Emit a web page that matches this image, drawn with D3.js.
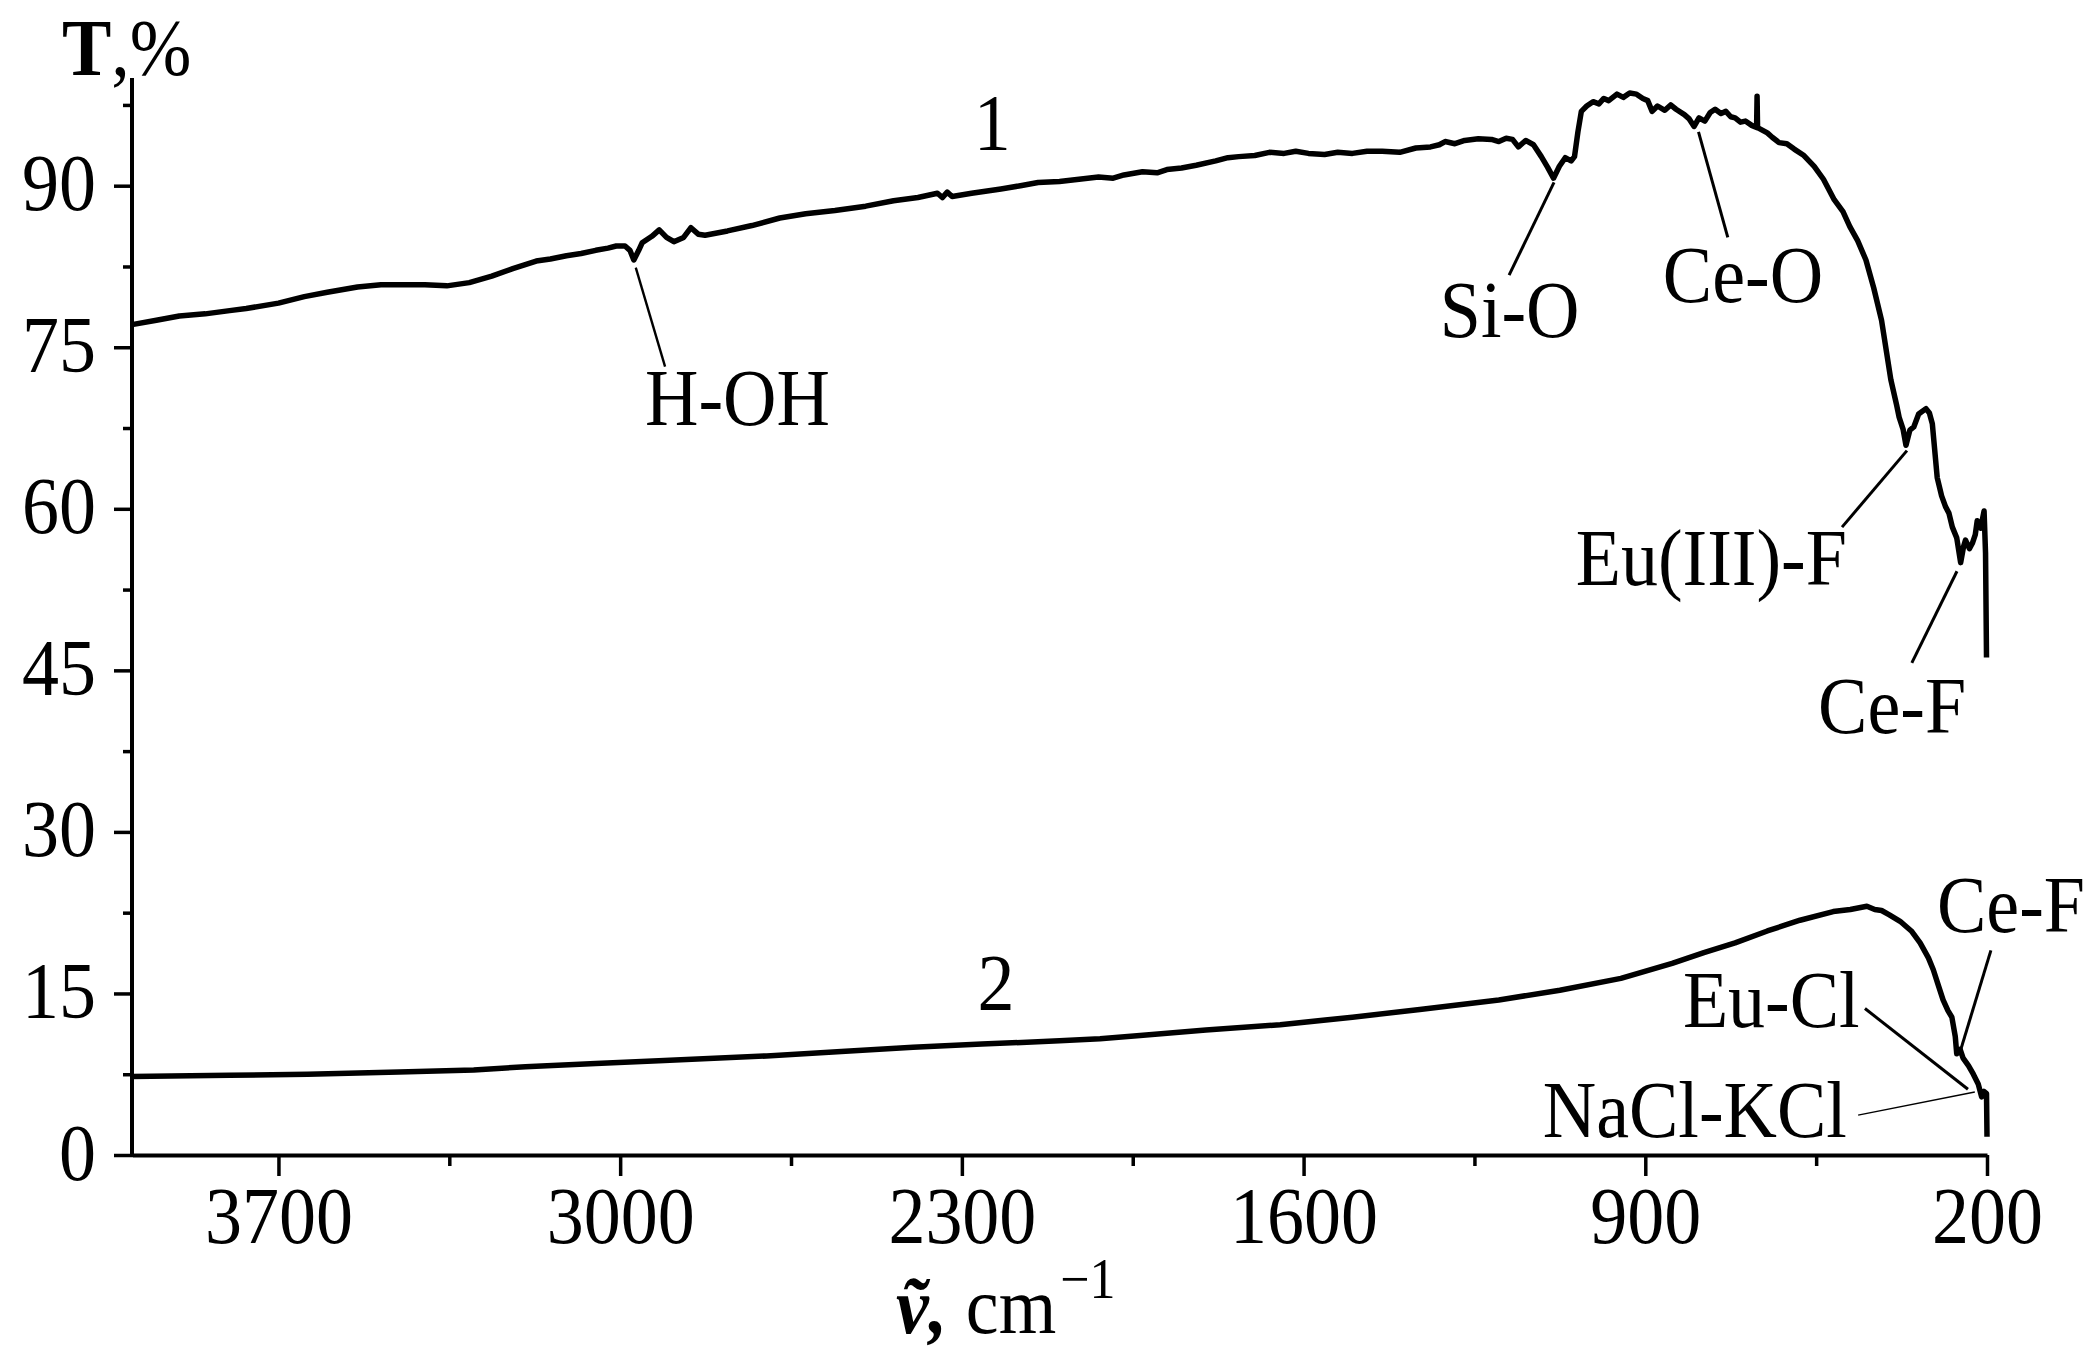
<!DOCTYPE html>
<html><head><meta charset="utf-8">
<script src="https://cdn.jsdelivr.net/npm/d3@7"></script>
<style>html,body{margin:0;padding:0;background:#fff;} svg{display:block;}</style>
</head><body>
<svg id="chart" width="2098" height="1358"></svg>
<script>
// ---------- DATA ----------
const curve1Wn = [4000,3950,3903,3850,3800,3766,3700,3647,3600,3538,3490,3446,3400,3355,3309,3263,3220,3172,3143,3110,3080,3050,3025,3008,2990,2980,2972,2962,2955,2935,2920,2905,2890,2870,2855,2840,2826,2780,2730,2673,2620,2560,2497,2440,2390,2350,2340,2330,2320,2280,2220,2180,2144,2100,2060,2020,1990,1968,1930,1900,1880,1850,1820,1780,1755,1733,1700,1670,1640,1616,1590,1557,1530,1500,1470,1439,1403,1370,1340,1322,1310,1290,1270,1242,1215,1200,1185,1172,1160,1145,1129,1113,1100,1088,1076,1064,1052,1045,1038,1031,1020,1007,995,985,975,958,945,932,918,905,895,886,875,860,848,837,820,810,800,790,778,767,757,745,735,725,716,705,695,682,672,671,670,650,640,626,610,595,575,554,535,513,495,481,465,448,432,416,397,385,380,372,366,358,350,340,325,318,312,302,293,285,278,271,262,254,248,244,236,230,224,220,213,206,203,201];
const curve1T = [77.1,77.5,77.9,78.1,78.4,78.6,79.1,79.7,80.1,80.6,80.8,80.8,80.8,80.7,81.0,81.6,82.3,83.0,83.2,83.5,83.7,84.0,84.2,84.4,84.4,84.0,83.1,84.0,84.7,85.3,85.9,85.2,84.8,85.2,86.1,85.5,85.4,85.8,86.3,87.0,87.4,87.7,88.1,88.6,88.9,89.3,88.9,89.4,89.0,89.3,89.7,90.0,90.3,90.4,90.6,90.8,90.7,91.0,91.3,91.2,91.5,91.65,91.9,92.3,92.6,92.7,92.8,93.1,93.0,93.2,93.0,92.9,93.1,93.0,93.2,93.2,93.1,93.5,93.6,93.8,94.1,93.9,94.2,94.35,94.3,94.1,94.4,94.3,93.6,94.2,93.8,92.7,91.7,90.7,91.8,92.6,92.3,92.7,95.0,96.9,97.4,97.8,97.6,98.1,97.9,98.5,98.2,98.6,98.5,98.1,97.9,96.9,97.4,97.0,97.5,97.1,96.6,96.2,95.5,96.3,96.0,96.8,97.1,96.7,96.9,96.4,96.3,95.9,96.0,95.6,95.4,98.3,95.4,94.9,94.5,94.0,93.9,93.4,92.8,91.8,90.6,88.7,87.6,86.2,84.9,83.1,80.5,77.5,72.0,69.6,68.5,67.4,65.9,67.3,67.6,68.8,69.3,68.9,67.9,62.9,61.2,60.2,59.6,58.3,57.3,55.0,56.5,57.1,56.3,56.8,57.6,58.9,58.2,59.8,55.9,46.2];

const curve2Wn = [4000,3800,3640,3453,3300,3194,3050,2921,2700,2547,2400,2259,2100,2017,1935,1800,1648,1500,1362,1200,1075,950,845,780,716,650,583,515,480,446,430,416,400,378,355,337,320,310,300,290,280,272,265,262,255,249,238,228,218,211,206,201,200];
const curve2T = [7.3,7.4,7.5,7.7,7.9,8.2,8.5,8.75,9.2,9.6,10.0,10.3,10.6,10.8,11.1,11.6,12.1,12.8,13.5,14.4,15.3,16.4,17.8,18.8,19.7,20.8,21.8,22.6,22.8,23.1,22.8,22.7,22.3,21.7,20.8,19.7,18.3,17.2,15.8,14.4,13.4,12.8,11.0,9.4,9.8,9.0,8.3,7.5,6.6,5.4,5.9,5.7,1.7];

const xDomain = [4000, 200];
const yDomain = [0, 100];
const xTickValues = [3700, 3000, 2300, 1600, 900, 200];
const xMinorTicks = [3350, 2650, 1950, 1250, 550];
const yTickValues = [0, 15, 30, 45, 60, 75, 90];
const yMinorTicks = [7.5, 22.5, 37.5, 52.5, 67.5, 82.5, 97.5];

const curveNames = ["1", "2"];
const curveNameWn = [2238, 2230];
const curveNameT = [93.3, 13.5];

// annotations: label text, tip of leader [wn,T], tail of leader [wn,T], label anchor point [wn,T]
const annText = ["H-OH", "Si-O", "Ce-O", "Eu(III)-F", "Ce-F", "Ce-F", "Eu-Cl", "NaCl-KCl"];
const annTip = [[2968,82.4],[1087,90.3],[791,95.0],[364,65.4],[261.5,54.2],[257,9.3],[239,6.1],[225,5.85]];
const annTail = [[2908,73.2],[1179,81.7],[731,85.2],[497,58.3],[354,45.7],[192,19.0],[450,13.6],[464,3.7]];
const annLabel = [[2949,67.8],[1321,75.95],[864,79.2],[487,52.9],[546,39.2],[302.5,20.7],[823,11.9],[487,1.7]];
const annAnchor = ["start","start","start","end","start","start","start","end"];

// ---------- DRAW ----------
const svg = d3.select("#chart");
const FONT = "'Liberation Serif','Times New Roman','DejaVu Serif',serif";
const FS = 74, SY = 1.08;

const x = d3.scaleLinear().domain(xDomain).range([132, 1987]);
const y = d3.scaleLinear().domain(yDomain).range([1155, 78]);

function txt(px, py, str, anchor, size) {
  return svg.append("text")
    .attr("transform", `translate(${px},${py}) scale(1,${SY})`)
    .attr("text-anchor", anchor || "start")
    .attr("font-family", FONT)
    .attr("font-size", size || FS)
    .attr("fill", "#000")
    .text(str);
}

// axes
const xAxis = svg.append("g").attr("transform", `translate(0,${y(0)})`)
  .call(d3.axisBottom(x).tickValues(xTickValues).tickSize(21).tickSizeOuter(0).tickFormat(d3.format("d")));
const xMinor = svg.append("g").attr("transform", `translate(0,${y(0)})`)
  .call(d3.axisBottom(x).tickValues(xMinorTicks).tickSize(11).tickSizeOuter(0).tickFormat(""));
const yAxis = svg.append("g").attr("transform", `translate(${x(4000)},0)`)
  .call(d3.axisLeft(y).tickValues(yTickValues).tickSize(18).tickSizeOuter(0).tickFormat(d3.format("d")));
const yMinor = svg.append("g").attr("transform", `translate(${x(4000)},0)`)
  .call(d3.axisLeft(y).tickValues(yMinorTicks).tickSize(9).tickSizeOuter(0).tickFormat(""));

[xAxis, xMinor, yAxis, yMinor].forEach(g => {
  g.select(".domain").attr("stroke", "#000").attr("stroke-width", 4);
  g.selectAll(".tick line").attr("stroke", "#000").attr("stroke-width", 3.5);
});
xMinor.select(".domain").remove();
yMinor.select(".domain").remove();
yAxis.select(".domain").attr("d", `M0,${y(100)}V${y(0) + 2}`);

xAxis.selectAll(".tick text")
  .attr("y", null).attr("dy", null)
  .attr("transform", `translate(0,88) scale(1,${SY})`)
  .attr("font-family", FONT).attr("font-size", FS).attr("fill", "#000");
yAxis.selectAll(".tick text")
  .attr("x", null).attr("dy", null)
  .attr("text-anchor", "end")
  .attr("transform", `translate(-36,24) scale(1,${SY})`)
  .attr("font-family", FONT).attr("font-size", FS).attr("fill", "#000");

// curves
const line = d3.line().x(d => x(d[0])).y(d => y(d[1])).curve(d3.curveLinear);
const c1 = curve1Wn.map((w, i) => [w, curve1T[i]]);
const c2 = curve2Wn.map((w, i) => [w, curve2T[i]]);
[c1, c2].forEach(c => {
  svg.append("path").datum(c).attr("d", line)
    .attr("fill", "none").attr("stroke", "#000").attr("stroke-width", 5.5)
    .attr("stroke-linejoin", "round").attr("stroke-linecap", "butt");
});

// curve numbers
curveNames.forEach((n, i) => txt(x(curveNameWn[i]), y(curveNameT[i]), n, "middle"));

// annotations
annText.forEach((t, i) => {
  svg.append("line")
    .attr("x1", x(annTip[i][0])).attr("y1", y(annTip[i][1]))
    .attr("x2", x(annTail[i][0])).attr("y2", y(annTail[i][1]))
    .attr("stroke", "#000").attr("stroke-width", t === "NaCl-KCl" ? 1.4 : (t === "H-OH" ? 2.4 : 3));
  txt(x(annLabel[i][0]), y(annLabel[i][1]), t, annAnchor[i]);
});

// axis titles
const yt = txt(62, 75, "", "start");
yt.append("tspan").attr("font-weight", "bold").text("T");
yt.append("tspan").text(",%");

const xt = txt(896, 1333, "", "start");
xt.append("tspan").attr("font-weight", "bold").attr("font-style", "italic").text("ṽ,");
xt.append("tspan").text(" cm");
xt.append("tspan").attr("font-size", 52).attr("dy", -32).attr("dx", 4).text("−1");
</script>
</body></html>
